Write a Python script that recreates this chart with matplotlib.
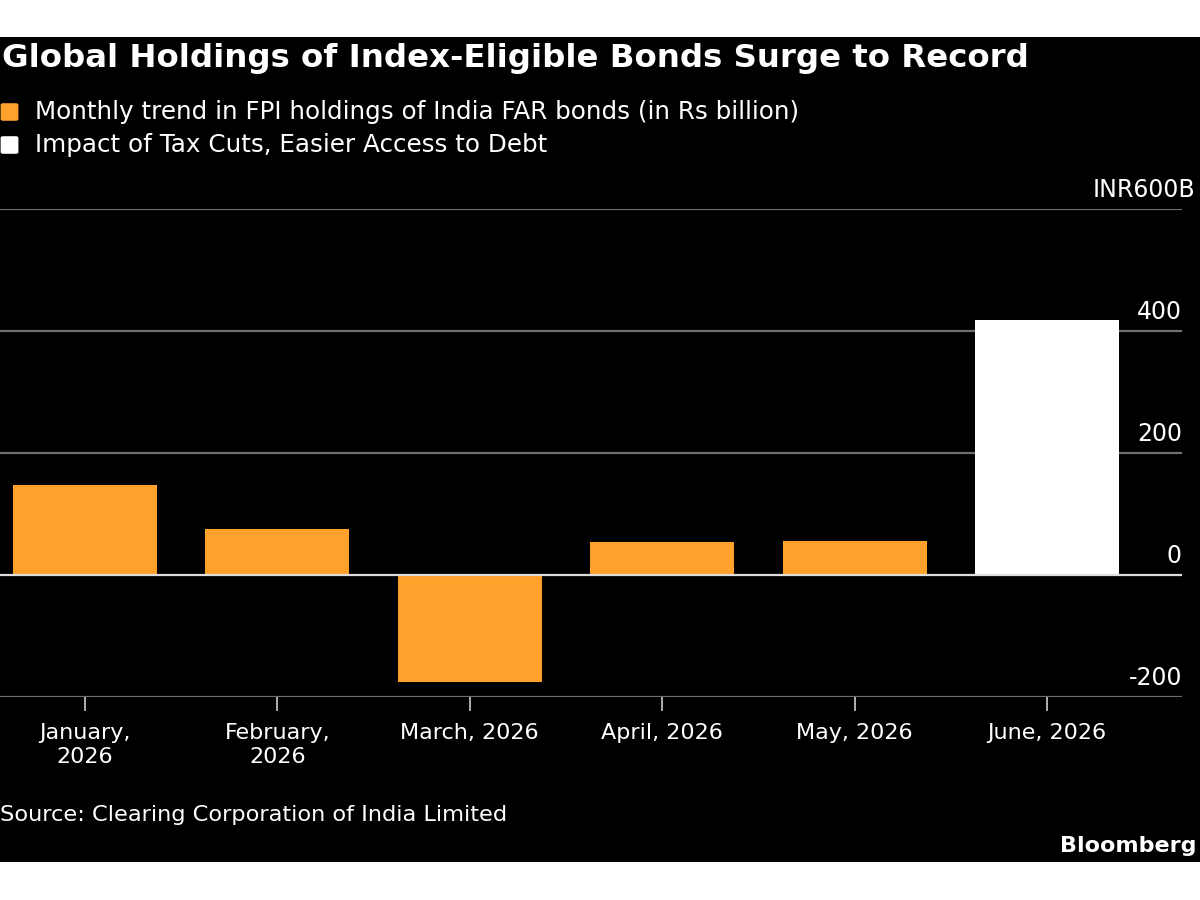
import matplotlib.pyplot as plt
from matplotlib.patches import Rectangle, FancyBboxPatch
from matplotlib import font_manager

# data
months = ["January,\n2026", "February,\n2026", "March, 2026", "April, 2026", "May, 2026", "June, 2026"]
values = [148, 75, -175, 54, 56, 418]
colors = ["#ffa12b"] * 5 + ["#ffffff"]
yticks = [600, 400, 200, 0, -200]
ytick_labels = ["INR600B", "400", "200", "0", "-200"]

names = {f.name for f in font_manager.fontManager.ttflist}
fam = "Liberation Sans Narrow" if "Liberation Sans Narrow" in names else "DejaVu Sans"
plt.rcParams['font.family'] = [fam, 'DejaVu Sans']

W, H = 1200, 900
fig = plt.figure(figsize=(12, 9), dpi=100)
fig.patch.set_facecolor("white")
# black panel
fig.patches.append(Rectangle((0, 1 - 862 / H), 1, (862 - 37) / H, transform=fig.transFigure,
                             facecolor="black", edgecolor="none", zorder=-5))

ax = fig.add_axes([0, 1 - 697 / H, 1182 / W, (697 - 209) / H])
ax.set_zorder(2)
ax.set_facecolor("none")
x = range(len(values))
ax.bar(x, values, width=0.75, color=colors, zorder=3)
ax.set_xlim(-0.44, 5.70)
ax.set_ylim(-200, 600)

for v, lab in zip(yticks, ytick_labels):
    ax.axhline(v, color="#dddddd" if v == 0 else "#6e6e6e", lw=1.6, zorder=2 if v else 4)
    # unit suffix hangs past the gridline end, like the reference
    xr = 1195 / 1182 if lab.endswith("B") else 1.0
    ax.text(xr, v + 12, lab, transform=ax.get_yaxis_transform(), ha="right", va="bottom",
            color="white", fontsize=17, clip_on=False)

for s in ax.spines.values():
    s.set_visible(False)
ax.set_yticks([])
ax.set_xticks(list(x))
ax.set_xticklabels(months, color="white", fontsize=16, linespacing=1.2)
ax.tick_params(axis="x", colors="#cccccc", length=10, width=1.2, pad=9, labelcolor="white")

fig.text(2 / W, 1 - 58 / H, "Global Holdings of Index-Eligible Bonds Surge to Record",
         color="white", fontsize=23.3, fontweight="bold", va="center", ha="left")

for yy, col, txt in [(112, "#ffa12b", "Monthly trend in FPI holdings of India FAR bonds (in Rs billion)"),
                     (145, "#ffffff", "Impact of Tax Cuts, Easier Access to Debt")]:
    fig.patches.append(FancyBboxPatch((3 / W, 1 - (yy + 7) / H), 13 / W, 14 / H,
                                      boxstyle="round,pad=0.002", transform=fig.transFigure,
                                      facecolor=col, edgecolor="none"))
    fig.text(35 / W, 1 - yy / H, txt, color="white", fontsize=17.7, va="center", ha="left")

fig.text(0, 1 - 815 / H, "Source: Clearing Corporation of India Limited", color="white",
         fontsize=16.2, va="center", ha="left")
fig.text(1197 / W, 1 - 846 / H, "Bloomberg", color="white", fontsize=16,
         fontweight="bold", va="center", ha="right")

fig.savefig("out.png", dpi=100, facecolor="white")
